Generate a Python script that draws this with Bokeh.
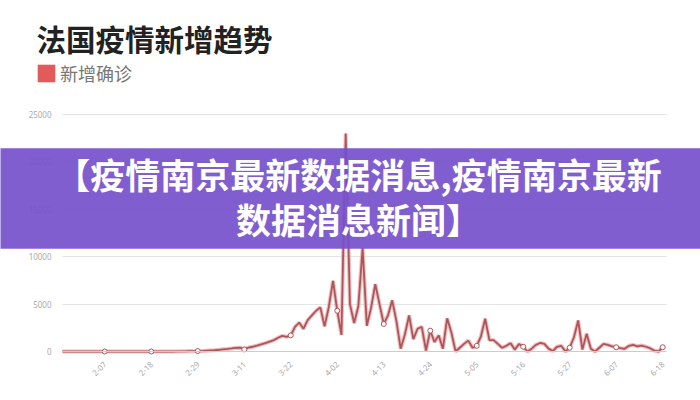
import math
import pandas as pd
from bokeh.plotting import figure
from bokeh.models import Range1d, FixedTicker, Label, Legend, LegendItem, Grid
from bokeh.embed import file_html
from bokeh.resources import INLINE

# ---- data ----
dates = [f"{d.month}-{d.day:02d}" for d in pd.date_range("2020-01-28", "2020-06-18")]

new_cases = [
    0, 0, 1, 0, 0, 0, 0, 0, 0, 0,
    0, 1, 0, 0, 0, 0, 0, 0, 5, 0,
    0, 0, 0, 0, 0, 0, 2, 4, 20, 19,
    43, 30, 48, 43, 86, 116, 130, 180, 230, 270,
    320, 380, 400, 220, 420, 500, 620, 760, 880, 1050,
    1200, 1450, 1650, 1550, 1700, 2600, 3050, 2400, 3300, 3800,
    4300, 4650, 2650, 4700, 7450, 4300, 1750, 23000, 5000, 3000,
    4800, 10900, 2700, 4600, 7100, 5000, 2900, 3800, 5400, 3200,
    300, 1800, 3800, 1300, 2400, 2600, 100, 2200, 1000, 1700,
    300, 3500, 2000, 0, 400, 800, 1150, 400, 600, 1600,
    3450, 1200, 1200, 800, 400, 600, 880, 200, 800, 500,
    0, 300, 700, 900, 800, 300, 50, 500, 600, 0,
    400, 1500, 3270, 200, 1860, 300, 0, 400, 800, 700,
    550, 450, 350, 280, 600, 700, 550, 630, 500, 350,
    100, 0, 450,
]
tick_idx = list(range(10, len(dates), 11))
y_ticks = [0, 5000, 10000, 15000, 20000, 25000]

title_text = "法国疫情新增趋势"
series_name = "新增确诊"
banner_text = "【疫情南京最新数据消息,疫情南京最新\n数据消息新闻】"

idx = list(range(len(new_cases)))
x_end = len(new_cases)

# The plot frame covers the whole canvas; axes are pinned at data 0 so that
# the title, legend and banner overlay are not clipped.
p = figure(width=700, height=400, output_backend="svg", toolbar_location=None,
           x_range=Range1d(-14.67, 150.94), y_range=Range1d(-5169, 37025),
           min_border=0, min_border_left=0, min_border_right=0,
           min_border_top=0, min_border_bottom=0)
p.outline_line_color = None
p.background_fill_color = "white"
p.border_fill_color = "white"

p.xgrid.visible = False
p.ygrid.ticker = FixedTicker(ticks=y_ticks)
p.ygrid.grid_line_color = "#e4e4e4"
if "cross_bounds" in Grid.properties():
    p.ygrid.cross_bounds = (0, x_end)
else:
    p.ygrid.visible = False
    p.segment(x0=[0] * len(y_ticks), x1=[x_end] * len(y_ticks), y0=y_ticks, y1=y_ticks,
              line_color="#e4e4e4", line_width=1)

p.yaxis.fixed_location = 0
p.yaxis.ticker = FixedTicker(ticks=y_ticks)
p.yaxis.axis_line_color = None
p.yaxis.major_tick_line_color = None
p.yaxis.minor_tick_line_color = None
p.yaxis.major_label_text_color = "#aaaaaa"
p.yaxis.major_label_text_font_size = "8px"
p.yaxis.major_label_text_font = "Noto Sans"
p.yaxis.major_label_standoff = 5

p.xaxis.fixed_location = 0
p.xaxis.bounds = (0, x_end)
p.xaxis.ticker = FixedTicker(ticks=tick_idx)
p.xaxis.major_label_overrides = {i: dates[i] for i in tick_idx}
p.xaxis.major_label_orientation = math.pi / 4
p.xaxis.axis_line_color = "#cccccc"
p.xaxis.major_tick_line_color = None
p.xaxis.minor_tick_line_color = None
p.xaxis.major_label_text_color = "#aaaaaa"
p.xaxis.major_label_text_font_size = "8px"
p.xaxis.major_label_text_font = "Noto Sans"
p.xaxis.major_label_standoff = 5

p.line(idx, new_cases, line_color="#f0a0a0", line_width=4, line_alpha=0.7)
p.line(idx, new_cases, line_color="#a8585c", line_width=1.8)
p.scatter([i for i in tick_idx], [new_cases[i] for i in tick_idx], size=5,
          fill_color="white", line_color="#a8585c", line_width=1)

p.add_layout(Label(x=36, y=363, x_units="screen", y_units="screen", text=title_text,
                   text_font="Noto Sans CJK SC", text_font_style="bold",
                   text_font_size="29.5px", text_color="#222222", text_baseline="middle"))

# legend swatch: zero-size quad on the first data point (draws nothing in the plot)
sw = p.quad(left=idx[:1], right=idx[:1], top=new_cases[:1], bottom=new_cases[:1],
            fill_color="#e25b5b", line_color=None)
legend = Legend(items=[LegendItem(label=series_name, renderers=[sw])],
                location=(35, 314), padding=0, margin=0,
                glyph_width=22, glyph_height=22, label_standoff=3,
                label_text_font_size="18px", label_text_color="#777777",
                label_text_font="Noto Sans CJK SC",
                border_line_color=None, background_fill_alpha=0)
p.add_layout(legend, "center")

p.add_layout(Label(x=358, y=202, x_units="screen", y_units="screen", text=banner_text,
                   text_font="Noto Sans CJK SC", text_font_style="bold",
                   text_font_size="35px", text_color="white", text_align="center",
                   text_baseline="middle", text_line_height=0.874,
                   background_fill_color="#7550cc", background_fill_alpha=0.92,
                   padding=dict(left=100, right=100, top=0, bottom=5)))

open("out.html", "w").write(file_html(p, INLINE))
